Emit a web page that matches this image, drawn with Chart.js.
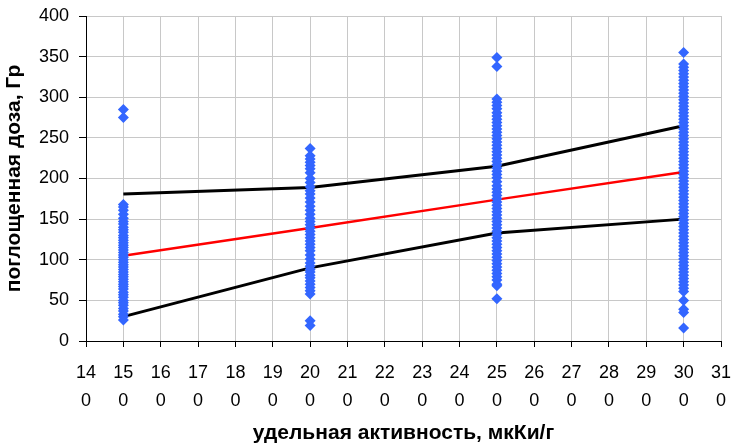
<!DOCTYPE html>
<html>
<head>
<meta charset="utf-8">
<script src="https://cdn.jsdelivr.net/npm/chart.js@4.4.1/dist/chart.umd.min.js"></script>
<style>
  html, body { margin: 0; padding: 0; background: #ffffff; }
  #wrap { width: 733px; height: 446px; position: relative; }
</style>
</head>
<body>
<div id="wrap"><canvas id="c" width="733" height="446"></canvas></div>
<script>
// ---- data ----
const activityGroups = [150, 200, 250, 300];

const dose150 = [285, 275, 168, 165, 161, 156, 151, 147, 144, 140, 137, 134, 130, 127, 124, 121, 118, 115, 112, 109, 106, 103, 100, 97, 94, 91, 88, 85, 82, 79, 76, 73, 70, 67, 64, 60, 57, 54, 50, 47, 44, 40, 37, 33, 30, 26];
const dose200 = [237, 228, 224, 220, 216, 212, 207, 200, 195, 190, 185, 181, 176, 171, 166, 161, 156, 151, 147, 143, 139, 135, 131, 127, 123, 119, 115, 111, 106, 101, 96, 92, 88, 85, 81, 78, 74, 70, 66, 62, 58, 25, 19];
const dose250 = [349, 338, 298, 294, 290, 286, 281, 277, 273, 269, 265, 261, 257, 253, 249, 245, 241, 237, 233, 229, 225, 221, 217, 213, 209, 205, 201, 196, 191, 187, 183, 179, 175, 171, 167, 163, 159, 155, 151, 147, 143, 139, 135, 131, 127, 123, 119, 115, 111, 107, 103, 99, 95, 91, 87, 83, 79, 75, 70, 68, 52];
const dose300 = [355, 341, 337, 333, 329, 325, 321, 317, 313, 309, 305, 301, 297, 293, 289, 285, 281, 277, 273, 269, 265, 261, 257, 253, 249, 245, 241, 237, 233, 229, 225, 221, 217, 213, 209, 205, 201, 197, 193, 189, 185, 181, 177, 173, 169, 165, 161, 157, 153, 149, 145, 141, 137, 133, 129, 125, 121, 117, 113, 109, 105, 101, 97, 93, 89, 85, 81, 77, 73, 69, 65, 61, 50, 39, 35, 16];

const fitX = [150, 200, 250, 300];
const meanLine = [105, 139, 174, 208];
const upperLine = [181, 189, 215, 265];
const lowerLine = [30, 90, 133, 150];

const xTickValues = [140, 150, 160, 170, 180, 190, 200, 210, 220, 230, 240, 250, 260, 270, 280, 290, 300, 310];
const xTickLabels = [["14","0"],["15","0"],["16","0"],["17","0"],["18","0"],["19","0"],["20","0"],["21","0"],["22","0"],["23","0"],["24","0"],["25","0"],["26","0"],["27","0"],["28","0"],["29","0"],["30","0"],["31","0"]];
const yTickValues = [0, 50, 100, 150, 200, 250, 300, 350, 400];

const xTitle = "удельная активность, мкКи/г";
const yTitle = "поглощенная доза, Гр";

// ---- build datasets from the arrays ----
const doseColumns = [dose150, dose200, dose250, dose300];
const scatterPoints = [];
doseColumns.forEach((col, i) => col.forEach(v => scatterPoints.push({ x: activityGroups[i], y: v })));
const toXY = arr => fitX.map((x, i) => ({ x: x, y: arr[i] }));

const FONT = "'Liberation Sans', Arial, sans-serif";

new Chart(document.getElementById('c'), {
  type: 'scatter',
  data: {
    datasets: [
      {
        label: 'доза',
        data: scatterPoints,
        showLine: false,
        pointStyle: 'rectRot',
        pointRadius: 5.5,
        pointHoverRadius: 5.5,
        backgroundColor: '#3366ff',
        borderColor: '#3366ff',
        borderWidth: 0
      },
      {
        label: 'среднее',
        data: toXY(meanLine),
        showLine: true,
        borderColor: '#ff0000',
        borderWidth: 2.5,
        pointRadius: 0,
        fill: false
      },
      {
        label: 'верх',
        data: toXY(upperLine),
        showLine: true,
        borderColor: '#000000',
        borderWidth: 3,
        pointRadius: 0,
        fill: false
      },
      {
        label: 'низ',
        data: toXY(lowerLine),
        showLine: true,
        borderColor: '#000000',
        borderWidth: 3,
        pointRadius: 0,
        fill: false
      }
    ]
  },
  options: {
    responsive: false,
    animation: false,
    devicePixelRatio: 1,
    layout: { padding: { top: 16, right: 12, left: 0, bottom: 0 } },
    plugins: {
      legend: { display: false },
      tooltip: { enabled: false },
      title: { display: false }
    },
    scales: {
      x: {
        type: 'linear',
        min: 140,
        max: 310,
        afterBuildTicks: (scale) => { scale.ticks = xTickValues.map(v => ({ value: v })); },
        afterFit: (scale) => { scale.height = 105; scale.paddingLeft = 0; scale.paddingRight = 0; },
        ticks: {
          autoSkip: false,
          maxRotation: 0,
          minRotation: 0,
          color: '#000',
          padding: 12,
          font: { family: FONT, size: 18, lineHeight: 1.556 },
          callback: (v) => { const i = xTickValues.indexOf(v); return i >= 0 ? xTickLabels[i] : ''; }
        },
        grid: { color: '#c8c8c8', lineWidth: 1, tickColor: '#000', tickLength: 6, drawTicks: true },
        border: { color: '#000', width: 1 },
        title: {
          display: true,
          text: xTitle,
          color: '#000',
          font: { family: FONT, size: 21, weight: 'bold', lineHeight: 1.2 },
          padding: { top: 0, bottom: 0 }
        }
      },
      y: {
        type: 'linear',
        min: 0,
        max: 400,
        afterBuildTicks: (scale) => { scale.ticks = yTickValues.map(v => ({ value: v })); },
        afterFit: (scale) => { scale.width = 86; scale.paddingTop = 0; scale.paddingBottom = 0; },
        ticks: {
          color: '#000',
          padding: 10,
          font: { family: FONT, size: 18 }
        },
        grid: { color: '#c8c8c8', lineWidth: 1, tickColor: '#000', tickLength: 7, drawTicks: true },
        border: { color: '#000', width: 1 },
        title: {
          display: true,
          text: yTitle,
          color: '#000',
          font: { family: FONT, size: 21, weight: 'bold', lineHeight: 1.2 },
          padding: { top: 2, bottom: 0 }
        }
      }
    }
  }
});
</script>
</body>
</html>
